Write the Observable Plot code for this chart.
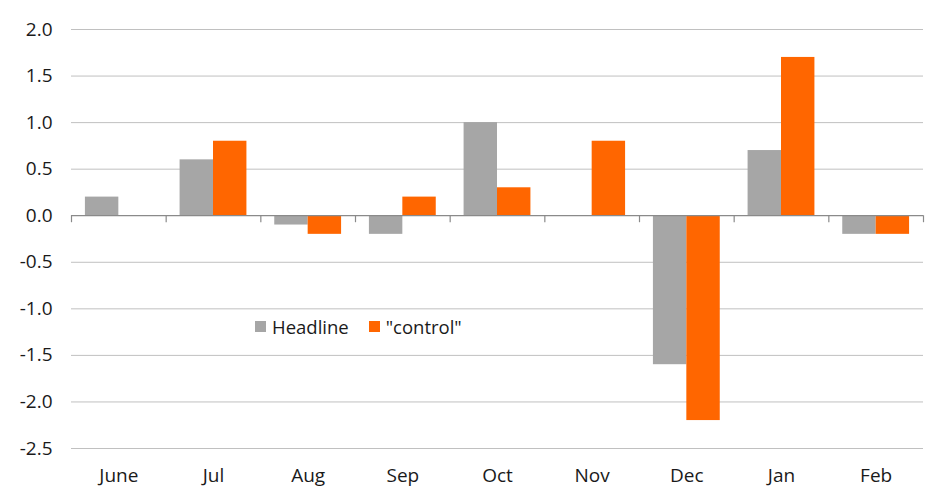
<!DOCTYPE html>
<html>
<head>
<meta charset="utf-8">
<script src="https://cdn.jsdelivr.net/npm/d3@7"></script>
<script src="https://cdn.jsdelivr.net/npm/@observablehq/plot@0.6"></script>
<style>
  html, body { margin: 0; padding: 0; background: #fff; }
  #wrap { position: relative; width: 952px; height: 491px; font-family: "Open Sans", sans-serif; }
  #legend { position: absolute; left: 255px; top: 314px; display: flex; align-items: center; font-size: 18.5px; color: #1a1a1a; }
  #legend .sw { display: inline-block; width: 11px; height: 11px; margin-right: 6px; }
  #legend .item { display: flex; align-items: center; margin-right: 20px; }
</style>
</head>
<body>
<div id="wrap"></div>
<script>
const months = ["June", "Jul", "Aug", "Sep", "Oct", "Nov", "Dec", "Jan", "Feb"];
const headline = [0.2, 0.6, -0.1, -0.2, 1.0, 0, -1.6, 0.7, -0.2];
const control = [0, 0.8, -0.2, 0.2, 0.3, 0.8, -2.2, 1.7, -0.2];
const yTicks = [2.0, 1.5, 1.0, 0.5, 0.0, -0.5, -1.0, -1.5, -2.0, -2.5];
const seriesNames = ["Headline", "\"control\""];
const seriesColors = ["#a6a6a6", "#ff6600"];

const rows = months.map((m, i) => ({i, month: m, headline: headline[i], control: control[i]}));

const chart = Plot.plot({
  width: 952,
  height: 491,
  marginLeft: 71,
  marginRight: 29,
  marginTop: 29,
  marginBottom: 43,
  style: {fontFamily: "'Open Sans', sans-serif", fontSize: "19px", color: "#1a1a1a", background: "#fff"},
  x: {type: "linear", domain: [0, months.length], axis: null},
  y: {domain: [-2.5, 2.0], axis: null},
  marks: [
    Plot.ruleY(yTicks.filter(d => d !== 0), {stroke: "#c0c0c0", strokeWidth: 1}),
    Plot.rectY(rows, {x1: d => d.i + 0.147, x2: d => d.i + 0.5, y1: 0, y2: "headline", fill: seriesColors[0]}),
    Plot.rectY(rows, {x1: d => d.i + 0.5, x2: d => d.i + 0.853, y1: 0, y2: "control", fill: seriesColors[1]}),
    Plot.ruleY([0], {stroke: "#8a8a8a", strokeWidth: 1.2}),
    Plot.ruleX(d3.range(months.length + 1), {y1: 0, y2: -0.075, stroke: "#8a8a8a", strokeWidth: 1.2}),
    Plot.axisY(yTicks, {tickSize: 0, tickPadding: 19, tickFormat: d => d.toFixed(1), fontSize: 19}),
    Plot.text(rows, {x: d => d.i + 0.5, y: -2.5, text: "month", dy: 27, fontSize: 19, fill: "#1a1a1a"})
  ]
});

const wrap = document.getElementById("wrap");
wrap.appendChild(chart);
const legend = document.createElement("div");
legend.id = "legend";
seriesNames.forEach((n, k) => {
  const it = document.createElement("div");
  it.className = "item";
  const sw = document.createElement("span");
  sw.className = "sw";
  sw.style.background = seriesColors[k];
  it.appendChild(sw);
  it.appendChild(document.createTextNode(n));
  legend.appendChild(it);
});
wrap.appendChild(legend);
</script>
</body>
</html>
